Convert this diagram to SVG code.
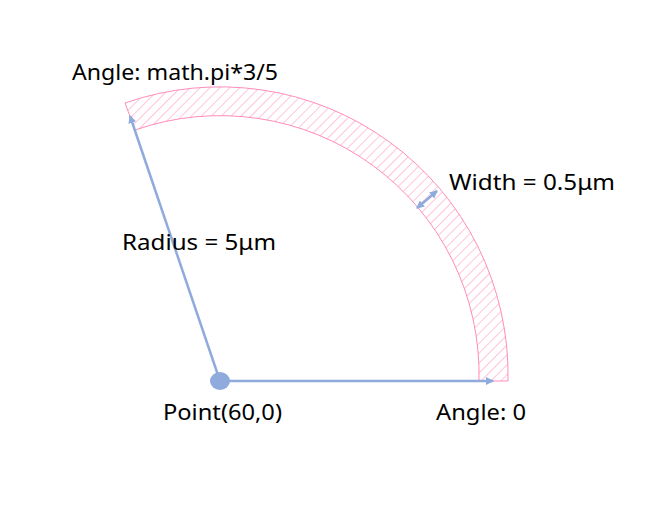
<svg xmlns="http://www.w3.org/2000/svg" width="667" height="515" viewBox="0 0 667 515">
<style>
text{font-family:"Noto Sans","Liberation Sans",sans-serif;font-size:21px;fill:#000}
.ln{stroke:#8faadc;stroke-width:2.5;fill:none}
</style>
<defs>
<pattern id="h" patternUnits="userSpaceOnUse" width="7" height="7" patternTransform="rotate(45)">
<line x1="0" y1="0" x2="0" y2="7" stroke="#ff6fa8" stroke-width="0.8"/>
</pattern>
<marker id="a" markerWidth="8" markerHeight="8" refX="7" refY="4" orient="auto-start-reverse" markerUnits="userSpaceOnUse">
<path d="M0,0 L8,4 L0,8 Z" fill="#8faadc"/>
</marker>
</defs>
<rect width="667" height="515" fill="#fff"/>
<g id="arc">
<path d="M508,381 A288,288 0 0 0 125,103 L135,130 A259,259 0 0 1 479,381 Z" fill="url(#h)" stroke="#ff6fa8" stroke-width="0.8"/>
</g>
<g id="connectors">
<line class="ln" x1="220" y1="381" x2="493" y2="381" marker-end="url(#a)"/>
<line class="ln" x1="220" y1="381" x2="130" y2="116" marker-end="url(#a)"/>
<line class="ln" x1="417" y1="208" x2="437" y2="191" stroke-width="2" marker-start="url(#a)" marker-end="url(#a)"/>
</g>
<g id="center"><ellipse cx="220" cy="381" rx="10" ry="9" fill="#8faadc"/></g>
<g id="labels">
<text x="72" y="80" textLength="206" lengthAdjust="spacingAndGlyphs">Angle: math.pi*3/5</text>
<text x="449" y="190" textLength="166" lengthAdjust="spacingAndGlyphs">Width = 0.5μm</text>
<text x="122" y="250" textLength="154" lengthAdjust="spacingAndGlyphs">Radius = 5μm</text>
<text x="163" y="420" textLength="119" lengthAdjust="spacingAndGlyphs">Point(60,0)</text>
<text x="436" y="420" textLength="90" lengthAdjust="spacingAndGlyphs">Angle: 0</text>
</g>
</svg>
